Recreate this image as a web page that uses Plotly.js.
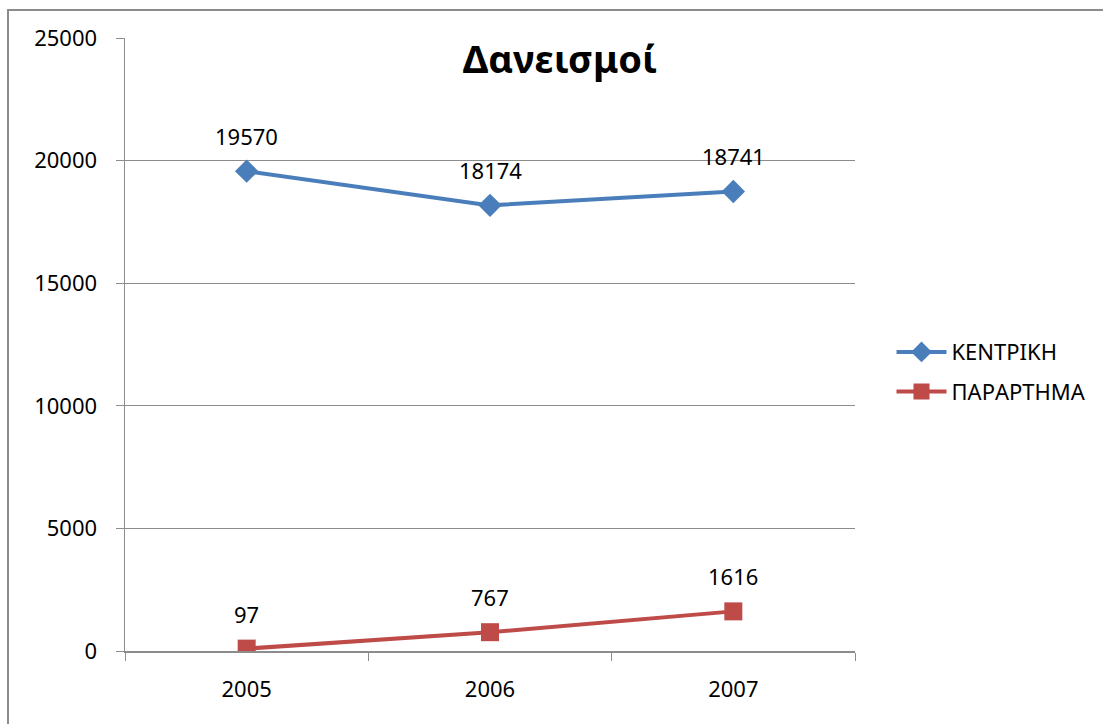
<!DOCTYPE html>
<html>
<head>
<meta charset="utf-8">
<script src="https://cdn.plot.ly/plotly-3.0.1.min.js"></script>
<style>html,body{margin:0;padding:0;background:#fff;}#chart{width:1103px;height:724px;}</style>
</head>
<body>
<div id="chart"></div>
<script>
const years = ["2005", "2006", "2007"];
const kentriki = [19570, 18174, 18741];
const parartima = [97, 767, 1616];
const seriesNames = ["ΚΕΝΤΡΙΚΗ", "ΠΑΡΑΡΤΗΜΑ"];
const chartTitle = "Δανεισμοί";

const FONT = "Noto Sans, Open Sans, sans-serif";
const blue = "#4a7ebb", red = "#be4b48";

const traces = [
  {x: years, y: kentriki, name: seriesNames[0], type: "scatter", mode: "lines+markers",
   line: {color: blue, width: 4}, marker: {symbol: "diamond", size: 18, color: blue},
   legendgroup: "a"},
  {x: years, y: parartima, name: seriesNames[1], type: "scatter", mode: "lines+markers",
   line: {color: red, width: 4}, marker: {symbol: "square", size: 18, color: red},
   legendgroup: "b"}
];

const annotations = [];
[kentriki, parartima].forEach(arr => {
  arr.forEach((v, i) => annotations.push({
    x: i, y: v, xref: "x", yref: "y", text: String(v), showarrow: false,
    yshift: 35, font: {family: FONT, size: 22, color: "#000"}
  }));
});

const layout = {
  width: 1103, height: 724,
  paper_bgcolor: "#fff", plot_bgcolor: "#fff",
  margin: {l: 125, r: 248, t: 38, b: 73},
  font: {family: FONT, size: 22, color: "#000"},
  title: {text: chartTitle, font: {family: FONT, size: 38, color: "#000", weight: "bold"},
          xref: "container", yref: "container", x: 560/1103, xanchor: "center",
          y: 1 - 60/724, yanchor: "middle"},
  xaxis: {type: "category", range: [-0.5, 2.5], tickson: "boundaries", showgrid: false,
          showline: true, linecolor: "#8c8c8c", linewidth: 1.5, ticks: "outside", ticklen: 8,
          tickcolor: "#8c8c8c", ticklabelstandoff: 18, tickfont: {size: 22, color: "#000"},
          zeroline: false, fixedrange: true},
  yaxis: {range: [0, 25000], dtick: 5000, tick0: 0, tickformat: "d", showgrid: true, gridcolor: "#8c8c8c",
          gridwidth: 1, showline: true, linecolor: "#8c8c8c", linewidth: 1.5, ticks: "outside",
          ticklen: 8, tickcolor: "#8c8c8c", ticklabelstandoff: 14, tickfont: {size: 22, color: "#000"},
          zeroline: false, fixedrange: true},
  legend: {x: 1.05, xanchor: "left", y: 0.455, yanchor: "middle", font: {size: 22, color: "#000"},
           itemwidth: 50,
           traceorder: "grouped", tracegroupgap: 8, bgcolor: "rgba(0,0,0,0)"},
  annotations: annotations,
  shapes: [{type: "rect", xref: "paper", yref: "paper",
            x0: (8 - 125)/730, x1: (1110 - 125)/730, y0: (651 - 730)/613, y1: (651 - 10)/613,
            line: {color: "#8c8c8c", width: 2}, fillcolor: "rgba(0,0,0,0)", layer: "below"}]
};

Plotly.newPlot("chart", traces, layout, {displayModeBar: false, staticPlot: true});
</script>
</body>
</html>
